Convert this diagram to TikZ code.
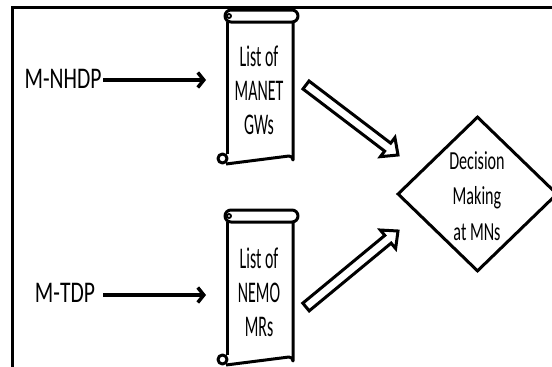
\documentclass[tikz,border=0pt]{standalone}
\usepackage{fontspec}
\setmainfont{Carlito}
\usetikzlibrary{arrows.meta,calc,shapes.geometric}
\tikzset{
  frameline/.style={line width=3.2pt},
  lbl/.style={inner sep=0pt, xscale=0.72, font=\fontsize{30}{34}\selectfont},
  scrolltext/.style={inner sep=0pt, align=center, xscale=0.53, font=\fontsize{30}{34}\selectfont},
  dectext/.style={inner sep=0pt, align=center, xscale=0.62, font=\fontsize{26}{35.5}\selectfont},
  conn/.style={line width=3.5pt, -{Straight Barb[length=6pt,width=15pt]}},
  scrollline/.style={line width=3pt, line join=round},
  hollow/.style={line width=3pt, line join=miter},
  decision/.style={draw, diamond, line width=3pt, minimum width=160pt, minimum height=155pt, inner sep=0pt}
}
\newcommand{\scrollshape}[2]{% #1 = top y of roll, #2 = bottom y of body
  \draw[scrollline, rounded corners=6pt] (225,#1) rectangle (298,#1+12);
  \draw[scrollline, line width=1.8pt] (229,#1+6) circle (2pt);
  \draw[scrollline] (227,#1+12) -- (227,#2-10);
  \draw[scrollline] (293,#1+12) -- (293,#2-4) arc[start angle=0,end angle=-90,radius=4] -- (226,#2);
  \draw[scrollline] (222.5,#2-5.5) circle (4.5pt);
}
\newcommand{\hollowarrow}[2]{% #1 tail, #2 tip
  \draw[hollow]
    ($(#1)!5pt!90:(#2)$) --
    ($($(#2)!13pt!(#1)$)!5pt!-90:(#1)$) --
    ($($(#2)!13pt!(#1)$)!12pt!-90:(#1)$) --
    (#2) --
    ($($(#2)!13pt!(#1)$)!12pt!90:(#1)$) --
    ($($(#2)!13pt!(#1)$)!5pt!90:(#1)$) --
    ($(#1)!5pt!-90:(#2)$) -- cycle;
}
\begin{document}
\begin{tikzpicture}[x=1pt,y=-1pt]
\useasboundingbox (0,0) rectangle (552,367);
\clip (0,0) rectangle (552,367);
% frame
\draw[frameline] (12.5,370) -- (12.5,7.5) -- (555,7.5);
% scrolls
\scrollshape{10}{164}
\scrollshape{210}{365}
\node[scrolltext] (gw) at (259,90) {List of\\MANET\\GWs};
\node[scrolltext] (mr) at (259,292) {List of\\NEMO\\MRs};
% left labels
\node[lbl, anchor=base] (nhdp) at (63,88) {M-NHDP};
\node[lbl, anchor=base] (tdp) at (65,302) {M-TDP};
\coordinate (a1s) at (103,80);
\coordinate (a1e) at (206,80);
\coordinate (a2s) at (103,295);
\coordinate (a2e) at (206,295);
\draw[conn] (a1s) -- (a1e);
\draw[conn] (a2s) -- (a2e);
% decision diamond
\node[decision] (dm) at (477.5,194) {};
\node[dectext] (dmt) at (477,196) {Decision\\Making\\at MNs};
% hollow arrows
\coordinate (h1s) at (306,85);
\coordinate (h1e) at (398,155);
\coordinate (h2s) at (306,307);
\coordinate (h2e) at (398,231);
\hollowarrow{h1s}{h1e}
\hollowarrow{h2s}{h2e}
\end{tikzpicture}
\end{document}
